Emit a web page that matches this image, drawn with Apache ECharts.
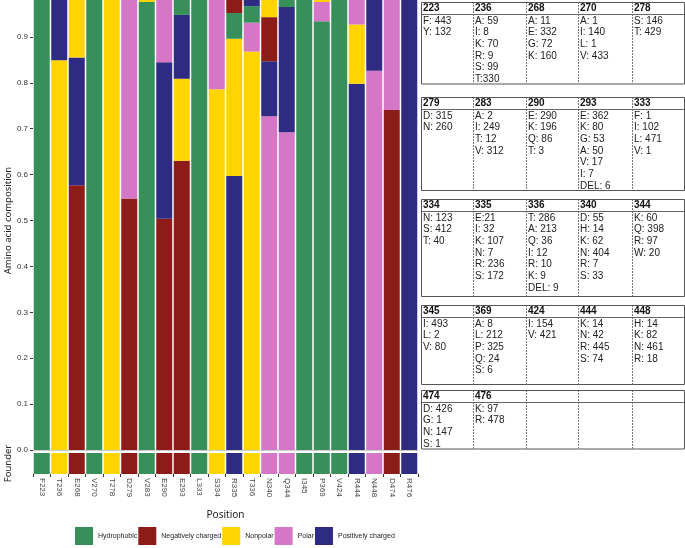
<!DOCTYPE html>
<html>
<head>
<meta charset="utf-8">
<script src="https://cdn.jsdelivr.net/npm/echarts@6/dist/echarts.min.js"></script>
<style>html,body{margin:0;padding:0;background:#fff;}#c{width:685px;height:548px;}</style>
</head>
<body>
<div id="c"></div>
<script>
// ---------- data ----------
const positions = ['F223','T236','E268','V270','T278','D279','V283','E290','E293','L333','S334','R335','T336','N340','Q344','I345','P369','V424','R444','N448','D474','R476'];
const classNames = ['Hydrophobic','Negatively charged','Nonpolar','Polar','Positively charged'];
const classColors = ['#37905A','#8D1B17','#FFD400','#D576C7','#2F2A82'];
// class index per position for the founder residue
const founderClass = [0,2,1,0,2,1,0,1,1,0,2,4,2,3,3,0,0,0,4,3,1,4];
// stacked layers (largest share first); -1 = no segment
const layer1Class = [0,2,1,0,2,1,0,1,1,0,2,4,2,3,3,0,0,0,4,3,1,4];
const layer1Value = [1.000,0.849,0.577,0.998,1.000,0.548,0.976,0.504,0.630,1.000,0.786,0.597,0.868,0.727,0.692,1.000,0.934,1.000,0.798,0.826,0.741,1.000];
const layer2Class = [-1,4,4,2,-1,3,2,4,2,-1,3,2,3,4,4,-1,3,-1,2,4,3,-1];
const layer2Value = [0,0.137,0.278,0.002,0,0.452,0.024,0.341,0.179,0,0.214,0.299,0.063,0.120,0.273,0,0.042,0,0.129,0.174,0.256,0];
const layer3Class = [-1,0,2,-1,-1,-1,-1,3,4,-1,-1,0,0,1,0,-1,2,-1,3,-1,2,-1];
const layer3Value = [0,0.014,0.144,0,0,0,0,0.150,0.139,0,0,0.056,0.036,0.096,0.035,0,0.024,0,0.073,0,0.003,0];
const layer4Class = [-1,-1,-1,-1,-1,-1,-1,2,0,-1,-1,1,4,2,-1,-1,-1,-1,-1,-1,-1,-1];
const layer4Value = [0,0,0,0,0,0,0,0.005,0.052,0,0,0.037,0.033,0.057,0,0,0,0,0,0,0,0];
const layer5Class = [-1,-1,-1,-1,-1,-1,-1,-1,-1,-1,-1,3,-1,-1,-1,-1,-1,-1,-1,-1,-1,-1];
const layer5Value = [0,0,0,0,0,0,0,0,0,0,0,0.012,0,0,0,0,0,0,0,0,0,0];
const yTicks = [0,0.1,0.2,0.3,0.4,0.5,0.6,0.7,0.8,0.9];

// table of residue counts
const tableHeaders = [
  ['223','236','268','270','278'],
  ['279','283','290','293','333'],
  ['334','335','336','340','344'],
  ['345','369','424','444','448'],
  ['474','476','','','']
];
const tableCounts = [
  [['F: 443','Y: 132'],['A: 59','I: 8','K: 70','R: 9','S: 99','T:330'],['A: 11','E: 332','G: 72','K: 160'],['A: 1','I: 140','L: 1','V: 433'],['S: 146','T: 429']],
  [['D: 315','N: 260'],['A: 2','I: 249','T: 12','V: 312'],['E: 290','K: 196','Q: 86','T: 3'],['E: 362','K: 80','G: 53','A: 50','V: 17','I: 7','DEL: 6'],['F: 1','I: 102','L: 471','V: 1']],
  [['N: 123','S: 412','T: 40'],['E:21','I: 32','K: 107','N: 7','R: 236','S: 172'],['T: 286','A: 213','Q: 36','I: 12','R: 10','K: 9','DEL: 9'],['D: 55','H: 14','K: 62','N: 404','R: 7','S: 33'],['K: 60','Q: 398','R: 97','W: 20']],
  [['I: 493','L: 2','V: 80'],['A: 8','L: 212','P: 325','Q: 24','S: 6'],['I: 154','V: 421'],['K: 14','N: 42','R: 445','S: 74'],['H: 14','K: 82','N: 461','R: 18']],
  [['D: 426','G: 1','N: 147','S: 1'],['K: 97','R: 478'],[],[],[]]
];

// ---------- build ----------
function layerData(cls, vals) {
  return vals.map((v, i) => cls[i] < 0 ? '-' : { value: v, itemStyle: { color: classColors[cls[i]] } });
}
const layers = [[layer1Class,layer1Value],[layer2Class,layer2Value],[layer3Class,layer3Value],[layer4Class,layer4Value],[layer5Class,layer5Value]];
const barGap = '8.5%';
const series = layers.map((l, k) => ({
  type: 'bar', name: 'layer' + (k+1), stack: 'comp', xAxisIndex: 0, yAxisIndex: 0,
  barCategoryGap: barGap, data: layerData(l[0], l[1]), silent: true
}));
classNames.forEach((n, i) => series.push({ type: 'bar', name: n, stack: 'comp', xAxisIndex: 0, yAxisIndex: 0, itemStyle: { color: classColors[i] }, data: [] }));
series.push({
  type: 'bar', name: 'founder', xAxisIndex: 1, yAxisIndex: 1, barCategoryGap: barGap, silent: true,
  data: founderClass.map(c => ({ value: 1, itemStyle: { color: classColors[c] } }))
});

// table graphics
const colX = [421, 473, 526, 578, 632, 684];
const blockTop = [2, 97, 199, 305, 390];
const blockBottom = [83.5, 190, 296, 384, 448.5];
const rowH = 11.65;
const graphics = [];
const F = 'Liberation Sans, Arial, sans-serif';
tableHeaders.forEach((hdr, b) => {
  const top = blockTop[b], bot = blockBottom[b];
  const hLine = top + 12;
  for (let c = 1; c < 5; c++) {
    graphics.push({ type: 'line', shape: { x1: colX[c] + 0.5, y1: top, x2: colX[c] + 0.5, y2: bot }, style: { stroke: '#777', lineWidth: 1, lineDash: [2, 1] }, silent: true });
  }
  graphics.push({ type: 'line', shape: { x1: colX[0], y1: hLine + 0.5, x2: colX[5], y2: hLine + 0.5 }, style: { stroke: '#666', lineWidth: 1 }, silent: true });
  graphics.push({ type: 'rect', shape: { x: colX[0] + 0.5, y: top + 0.5, width: colX[5] - colX[0], height: bot - top }, style: { fill: 'none', stroke: '#555', lineWidth: 1 }, silent: true });
  hdr.forEach((h, c) => {
    if (h) graphics.push({ type: 'text', x: colX[c] + 2, y: top + 6.5, style: { text: h, fontSize: 10, fontWeight: 'bold', fontFamily: F, fill: '#111', verticalAlign: 'middle' }, silent: true });
    tableCounts[b][c].forEach((t, r) => {
      graphics.push({ type: 'text', x: colX[c] + 2, y: hLine + 7 + r * rowH, style: { text: t, fontSize: 10, fontFamily: F, fill: '#222', verticalAlign: 'middle' }, silent: true });
    });
  });
});

const chart = echarts.init(document.getElementById('c'), null, { renderer: 'canvas' });
chart.setOption({
  animation: false,
  backgroundColor: '#fff',
  grid: [
    { left: 33, right: 267, top: -9, bottom: 98, outerBoundsMode: 'none', containLabel: false },
    { left: 33, right: 267, top: 453, height: 21, outerBoundsMode: 'none', containLabel: false }
  ],
  xAxis: [
    { type: 'category', gridIndex: 0, data: positions, axisLabel: { show: false }, axisTick: { show: false },
      axisLine: { show: true, lineStyle: { color: '#cccccc', width: 1 } } },
    { type: 'category', gridIndex: 1, data: positions,
      axisLine: { show: false },
      axisTick: { show: true, length: 3, lineStyle: { color: '#333' } },
      axisLabel: { rotate: -90, fontSize: 8, color: '#444', fontFamily: F, margin: 4, interval: 0 },
      name: 'Position', nameLocation: 'middle', nameGap: 36,
      nameTextStyle: { fontSize: 10, color: '#222', fontFamily: 'Noto Sans' } }
  ],
  yAxis: [
    { type: 'value', gridIndex: 0, min: 0, max: 1, interval: 0.1,
      axisLine: { show: false }, splitLine: { show: false },
      axisTick: { show: true, length: 3, customValues: yTicks, lineStyle: { color: '#333' } },
      axisLabel: { fontSize: 8, color: '#333', fontFamily: F, margin: 5, customValues: yTicks, formatter: v => v.toFixed(1) },
      name: 'Amino acid composition', nameLocation: 'middle', nameGap: 20, nameMoveOverlap: false,
      nameTextStyle: { fontSize: 9.5, color: '#222', fontFamily: 'Noto Sans' } },
    { type: 'value', gridIndex: 1, min: 0, max: 1,
      axisLine: { show: false }, splitLine: { show: false }, axisTick: { show: false }, axisLabel: { show: false },
      name: 'Founder', nameLocation: 'middle', nameGap: 20, nameMoveOverlap: false,
      nameTextStyle: { fontSize: 9.5, color: '#222', fontFamily: 'Noto Sans' } }
  ],
  legend: {
    data: classNames, left: 70, top: 522, itemWidth: 18, itemHeight: 18, itemGap: 1,
    icon: 'rect', selectedMode: false,
    textStyle: { fontSize: 7, color: '#222', fontFamily: F }
  },
  series: series,
  graphic: graphics
});
</script>
</body>
</html>
